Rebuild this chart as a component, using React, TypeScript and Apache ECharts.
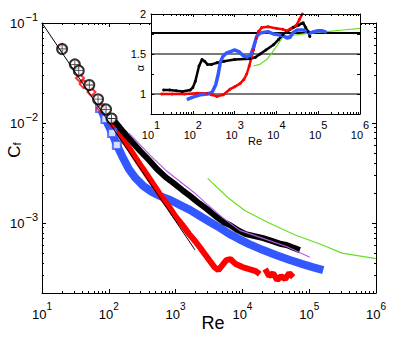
import React, { useEffect, useRef } from 'react';
import * as echarts from 'echarts';

const FONT = "'Liberation Sans', Arial, Helvetica, sans-serif";

// ---------- tick labels ----------
const mainXMajor = [10, 100, 1000, 10000, 100000, 1000000];
const mainYMajor = [0.001, 0.01, 0.1];
const insetYLabels = [1, 1.5, 2];
const insetYTicks = [1, 1.25, 1.5, 1.75];
const insetRefLines = [1, 1.5, 1.76];

// ---------- main plot data [Re, Cf] ----------
const laminarLine = [[10, 0.1], [1950, 0.00054]];

const blackCircles = [
  [20, 0.055], [31, 0.0386], [35.5, 0.0334], [51, 0.024], [69, 0.0173], [91, 0.0137], [110, 0.0111],
];

const blackBand = [
  [118, 0.0106], [129, 0.01], [166, 0.00813], [224, 0.00646], [295, 0.00525], [398, 0.00427], [525, 0.00347],
  [708, 0.00288], [933, 0.00251], [1259, 0.00214], [1660, 0.00186], [2239, 0.00158], [2951, 0.00138],
  [3981, 0.00117], [5248, 0.00102], [6457, 0.000955], [8511, 0.000851], [11220, 0.000776],
  [15136, 0.000741], [20417, 0.000708], [28184, 0.000661], [38019, 0.000617], [45709, 0.000603],
  [57544, 0.000569], [72444, 0.000537],
];

const purpleLine = [
  [200, 0.0079], [417, 0.00475], [741, 0.00329], [1950, 0.00199], [2951, 0.00154], [5012, 0.00114],
  [9120, 0.000845], [20417, 0.000703], [45709, 0.000584], [102329, 0.000455],
];

const greenLine = [
  [3020, 0.0028], [6166, 0.00178], [10965, 0.001327], [25119, 0.001], [61660, 0.000759],
  [158489, 0.000603], [309030, 0.000501], [1000000, 0.000442],
];

const blueBand = [
  [74, 0.0141], [89, 0.01096], [112, 0.00794], [132, 0.00603], [158, 0.00468], [200, 0.00347],
  [251, 0.00282], [331, 0.00234], [447, 0.00204], [589, 0.00186], [832, 0.0017], [1175, 0.00151],
  [1660, 0.00135], [2344, 0.00117], [3311, 0.00102], [4677, 0.000891], [6457, 0.000776],
  [8913, 0.000692], [12589, 0.000617], [20417, 0.000537], [31623, 0.000479], [51286, 0.000427],
  [79433, 0.000389], [112202, 0.000363], [162181, 0.000339],
];

const redEarly = [[20, 0.0562], [37, 0.0282], [42, 0.0245], [55, 0.0204], [76, 0.0141]];

const redBand = [
  [100, 0.0108], [126, 0.0089], [158, 0.0071], [200, 0.00567], [251, 0.0045], [316, 0.00357],
  [398, 0.00284], [501, 0.00226], [631, 0.00179], [794, 0.00146], [1000, 0.00116], [1259, 0.00096],
  [1585, 0.00078], [1995, 0.00065], [2512, 0.00053], [3162, 0.00043], [3802, 0.000363],
  [4365, 0.000339], [5012, 0.00038], [5754, 0.000427], [6607, 0.000437], [7943, 0.000389],
  [10000, 0.000363], [12589, 0.000347], [15849, 0.000331], [18197, 0.000309],
  null,
  [21878, 0.000347], [25119, 0.000295], [28840, 0.000316], [33113, 0.000269], [38019, 0.000295],
  [43652, 0.000275], [50119, 0.000316], [57544, 0.000288],
];

// ---------- inset data [Re, alpha] ----------
const insetBlack = [
  [20, 1.05], [28, 1.05], [40, 1.04], [56, 1.03], [87, 1.05], [100, 1.08], [115, 1.16], [141, 1.35],
  [166, 1.43], [191, 1.41], [224, 1.37], [282, 1.37], [380, 1.39], [562, 1.41], [1000, 1.43],
  [2344, 1.44], [3162, 1.46], [4074, 1.5], [5623, 1.55], [8511, 1.615], [11220, 1.68], [14125, 1.74],
  [17783, 1.78], [25119, 1.83], [33884, 1.86], [39811, 1.88], [43652, 1.89], [50119, 1.83],
  [57544, 1.78], [63096, 1.72],
];

const insetRed = [
  [18, 1.0], [32, 1.0], [63, 1.0], [126, 1.01], [219, 1.01], [282, 0.99], [380, 0.97], [537, 0.99],
  [776, 1.06], [1000, 1.09], [1349, 1.13], [1660, 1.18], [1950, 1.25], [2239, 1.35], [2818, 1.55],
  [3311, 1.7], [3715, 1.78], [4467, 1.83], [6310, 1.84], [10233, 1.82], [14125, 1.81], [17783, 1.79],
  [22387, 1.82], [30200, 1.86], [35481, 1.93], [41687, 2.0],
];

const insetBlue = [
  [72, 0.93], [100, 0.96], [151, 0.99], [224, 1.0], [288, 1.02], [355, 1.12], [407, 1.25], [457, 1.4],
  [525, 1.47], [631, 1.51], [794, 1.53], [1000, 1.55], [1259, 1.53], [1585, 1.48], [1995, 1.46],
  [2399, 1.48], [2818, 1.58], [3388, 1.72], [3981, 1.76], [4898, 1.77], [6310, 1.78], [8511, 1.75],
  [11220, 1.74], [14125, 1.73], [17783, 1.7], [21380, 1.71], [25119, 1.77], [31623, 1.8],
  [43652, 1.8], [63096, 1.76], [79433, 1.78], [100000, 1.79], [125893, 1.79], [158489, 1.77],
];

const insetGreen = [
  [2818, 1.35], [3981, 1.37], [5888, 1.43], [7943, 1.52], [10233, 1.6], [12589, 1.67], [14791, 1.72],
  [19953, 1.73], [30200, 1.74], [63096, 1.76], [158489, 1.78], [398107, 1.8], [1000000, 1.82],
];

// minor ticks of log axes (2..9 in each decade)
function minorTicks(e0: number, e1: number, lo: number) {
  const out: number[] = [];
  for (let e = e0; e <= e1; e++) {
    for (let k = 2; k <= 9; k++) {
      const v = k * Math.pow(10, e);
      if (v > lo) out.push(v);
    }
  }
  return out;
}
const mainXMinor = minorTicks(1, 5, 10);
const mainYMinor = minorTicks(-4, -2, 0.0002);

const expOf = (v: number) => Math.round(Math.log10(v));
const sup = (e: number) => (e < 0 ? '\u2212' + -e : String(e));

function logAxis(o: any) {
  const { gridIndex, position, min, max, ticks, len, label, line, z } = o;
  return {
    type: 'log',
    logBase: 10,
    gridIndex,
    position,
    min,
    max,
    z,
    axisLine: { show: line, onZero: false, lineStyle: { color: '#000', width: 1 } },
    axisTick: { show: true, inside: true, length: len, customValues: ticks, lineStyle: { color: '#000', width: 1 } },
    axisLabel: label || { show: false },
    splitLine: { show: false },
    minorTick: { show: false },
  };
}

function valueAxis(o: any) {
  const { gridIndex, position, min, max, ticks, len, label, line, z } = o;
  return {
    type: 'value',
    gridIndex,
    position,
    min,
    max,
    z,
    axisLine: { show: line, onZero: false, lineStyle: { color: '#000', width: 1 } },
    axisTick: { show: true, inside: true, length: len, customValues: ticks, lineStyle: { color: '#000', width: 1 } },
    axisLabel: label || { show: false },
    splitLine: { show: false },
  };
}

const mainXLabel = {
  show: true,
  customValues: mainXMajor,
  margin: 8,
  formatter: (v: number) => `{b|10}{s|${sup(expOf(v))}}`,
  rich: {
    b: { fontSize: 13, fontFamily: FONT, color: '#000', padding: [7, 0, 0, 0] },
    s: { fontSize: 10, fontFamily: FONT, color: '#000', verticalAlign: 'top' },
  },
};

const mainYLabel = {
  show: true,
  customValues: mainYMajor,
  margin: 4,
  formatter: (v: number) => `{b|10}{s|${sup(expOf(v))}}`,
  rich: {
    b: { fontSize: 13, fontFamily: FONT, color: '#000', padding: [5, 0, 5, 0] },
    s: { fontSize: 11, fontFamily: FONT, color: '#000', verticalAlign: 'top', padding: [0, 0, 0, 1] },
  },
};

const insetXLabel = {
  show: true,
  customValues: mainXMajor,
  margin: 5,
  formatter: (v: number) => `{b|10}{s|${sup(expOf(v))}}`,
  rich: {
    b: { fontSize: 11, fontFamily: FONT, color: '#000', padding: [10, 0, 0, 0] },
    s: { fontSize: 11, fontFamily: FONT, color: '#000', verticalAlign: 'top' },
  },
};

const insetYLabel = {
  show: true,
  customValues: insetYLabels,
  margin: 5,
  fontSize: 11,
  fontFamily: FONT,
  color: '#000',
  formatter: (v: number) => String(v),
};

const MAIN = { left: 42, top: 23, width: 334, height: 270 };
const INSET = { left: 151, top: 14, width: 209, height: 100 };

export default function App() {
  const ref = useRef<HTMLDivElement>(null);
  useEffect(() => {
    const chart = echarts.init(ref.current as HTMLDivElement, null, { renderer: 'svg' });
    const xm = { min: 10, max: 1000000 };
    const ym = { min: 0.0002, max: 0.1 };
    const option: any = {
      animation: false,
      backgroundColor: '#fff',
      grid: [
        { ...MAIN, containLabel: false },
        { ...INSET, containLabel: false },
      ],
      xAxis: [
        logAxis({ gridIndex: 0, position: 'bottom', ...xm, ticks: mainXMajor, len: 4, label: mainXLabel, line: true, z: 0 }),
        logAxis({ gridIndex: 0, position: 'bottom', ...xm, ticks: mainXMinor, len: 2, line: false, z: 0 }),
        logAxis({ gridIndex: 0, position: 'top', ...xm, ticks: mainXMajor, len: 4, line: true, z: 0 }),
        logAxis({ gridIndex: 0, position: 'top', ...xm, ticks: mainXMinor, len: 2, line: false, z: 0 }),
        logAxis({ gridIndex: 1, position: 'bottom', ...xm, ticks: mainXMajor, len: 3, label: insetXLabel, line: true, z: 6 }),
        logAxis({ gridIndex: 1, position: 'bottom', ...xm, ticks: mainXMinor, len: 2, line: false, z: 6 }),
        logAxis({ gridIndex: 1, position: 'top', ...xm, ticks: mainXMajor, len: 3, line: true, z: 6 }),
        logAxis({ gridIndex: 1, position: 'top', ...xm, ticks: mainXMinor, len: 2, line: false, z: 6 }),
      ],
      yAxis: [
        logAxis({ gridIndex: 0, position: 'left', ...ym, ticks: mainYMajor, len: 4, label: mainYLabel, line: true, z: 0 }),
        logAxis({ gridIndex: 0, position: 'left', ...ym, ticks: mainYMinor, len: 2, line: false, z: 0 }),
        logAxis({ gridIndex: 0, position: 'right', ...ym, ticks: mainYMajor, len: 4, line: true, z: 0 }),
        logAxis({ gridIndex: 0, position: 'right', ...ym, ticks: mainYMinor, len: 2, line: false, z: 0 }),
        valueAxis({ gridIndex: 1, position: 'left', min: 0.75, max: 2, ticks: insetYTicks, len: 3, label: insetYLabel, line: true, z: 6 }),
        valueAxis({ gridIndex: 1, position: 'right', min: 0.75, max: 2, ticks: insetYTicks, len: 3, line: true, z: 6 }),
      ],
      graphic: [
        {
          type: 'rect',
          z: 4,
          shape: { x: INSET.left, y: INSET.top, width: INSET.width, height: INSET.height },
          style: { fill: '#fff' },
        },
        {
          type: 'text',
          x: 213,
          y: 323,
          z: 10,
          style: { text: 'Re', fontSize: 18, fontFamily: FONT, fill: '#000', align: 'center', verticalAlign: 'middle', textAlign: 'center', textVerticalAlign: 'middle' },
        },
        {
          type: 'text',
          x: 14,
          y: 150,
          z: 10,
          rotation: Math.PI / 2,
          style: {
            text: '{c|C}{f|f}',
            fill: '#000',
            align: 'center',
            verticalAlign: 'middle',
            textAlign: 'center',
            textVerticalAlign: 'middle',
            rich: {
              c: { fontSize: 17, fontFamily: FONT, fill: '#000' },
              f: { fontSize: 11, fontFamily: FONT, fill: '#000', verticalAlign: 'bottom' },
            },
          },
        },
        {
          type: 'text',
          x: 140,
          y: 68,
          z: 10,
          rotation: Math.PI / 2,
          style: { text: 'α', fontSize: 11, fontFamily: FONT, fill: '#000', align: 'center', verticalAlign: 'middle', textAlign: 'center', textVerticalAlign: 'middle' },
        },
        {
          type: 'text',
          x: 255,
          y: 141,
          z: 10,
          style: { text: 'Re', fontSize: 11, fontFamily: FONT, fill: '#000', align: 'center', verticalAlign: 'middle', textAlign: 'center', textVerticalAlign: 'middle' },
        },
      ],
      series: [
        {
          type: 'line', name: 'blue', xAxisIndex: 0, yAxisIndex: 0, z: 2, data: blueBand,
          lineStyle: { color: '#3358ff', width: 8 }, symbol: 'none', silent: true,
        },
        {
          type: 'scatter', name: 'blueEarly', xAxisIndex: 0, yAxisIndex: 0, z: 2, data: blueBand.slice(0, 4),
          symbol: 'emptyRect', symbolSize: 8, itemStyle: { color: '#3358ff', borderColor: '#3358ff', borderWidth: 1.2 }, silent: true,
        },
        {
          type: 'scatter', name: 'redEarly', xAxisIndex: 0, yAxisIndex: 0, z: 2, data: redEarly,
          symbol: 'emptyDiamond', symbolSize: 8, itemStyle: { color: '#ff0000', borderColor: '#ff0000', borderWidth: 1 }, silent: true,
        },
        {
          type: 'line', name: 'red', xAxisIndex: 0, yAxisIndex: 0, z: 2, data: redBand, connectNulls: false,
          lineStyle: { color: '#ff0000', width: 6 }, symbol: 'none', silent: true,
        },
        {
          type: 'line', name: 'black', xAxisIndex: 0, yAxisIndex: 0, z: 2, data: blackBand,
          lineStyle: { color: '#000', width: 6 }, symbol: 'none', silent: true,
        },
        {
          type: 'scatter', name: 'blackCircles', xAxisIndex: 0, yAxisIndex: 0, z: 2, data: blackCircles,
          symbol: 'emptyCircle', symbolSize: 10, itemStyle: { color: '#000', borderColor: '#000', borderWidth: 1.2 }, silent: true,
        },
        {
          type: 'scatter', name: 'blackCross', xAxisIndex: 0, yAxisIndex: 0, z: 2, data: blackCircles,
          symbol: 'path://M4.5,0h1v10h-1zM0,4.5h10v1h-10z', symbolSize: 8, itemStyle: { color: '#000' }, silent: true,
        },
        {
          type: 'line', name: 'laminar', xAxisIndex: 0, yAxisIndex: 0, z: 3, data: laminarLine,
          lineStyle: { color: '#000', width: 1 }, symbol: 'none', silent: true,
        },
        {
          type: 'line', name: 'purple', xAxisIndex: 0, yAxisIndex: 0, z: 3, data: purpleLine,
          lineStyle: { color: '#b25ee8', width: 1.2 }, symbol: 'none', silent: true,
        },
        {
          type: 'line', name: 'green', xAxisIndex: 0, yAxisIndex: 0, z: 3, data: greenLine,
          lineStyle: { color: '#66e01e', width: 1.2 }, symbol: 'none', silent: true,
        },
        // inset
        {
          type: 'line', name: 'refLines', xAxisIndex: 4, yAxisIndex: 4, z: 5, data: [], silent: true,
          markLine: {
            silent: true, symbol: ['none', 'none'], label: { show: false }, animation: false,
            data: insetRefLines.map((v, i) => ({
              yAxis: v,
              lineStyle: { color: i === 2 ? '#000' : '#7a7a7a', width: 1.8, type: 'solid' },
            })),
          },
        },
        {
          type: 'line', name: 'insetGreen', xAxisIndex: 4, yAxisIndex: 4, z: 5, data: insetGreen,
          lineStyle: { color: '#66e01e', width: 1.2 }, symbol: 'none', silent: true,
        },
        {
          type: 'line', name: 'insetBlack', xAxisIndex: 4, yAxisIndex: 4, z: 5, data: insetBlack,
          lineStyle: { color: '#000', width: 2.5 }, symbol: 'circle', symbolSize: 3, itemStyle: { color: '#000' }, silent: true,
        },
        {
          type: 'line', name: 'insetRed', xAxisIndex: 4, yAxisIndex: 4, z: 5, data: insetRed,
          lineStyle: { color: '#ff0000', width: 2.5 }, symbol: 'circle', symbolSize: 3, itemStyle: { color: '#ff0000' }, silent: true,
        },
        {
          type: 'line', name: 'insetBlue', xAxisIndex: 4, yAxisIndex: 4, z: 5, data: insetBlue,
          lineStyle: { color: '#3358ff', width: 3.5 }, symbol: 'none', silent: true,
        },
      ],
    };
    chart.setOption(option);
    return () => chart.dispose();
  }, []);
  return <div ref={ref} style={{ position: 'absolute', left: 0, top: 0, width: 395, height: 340 }} />;
}
